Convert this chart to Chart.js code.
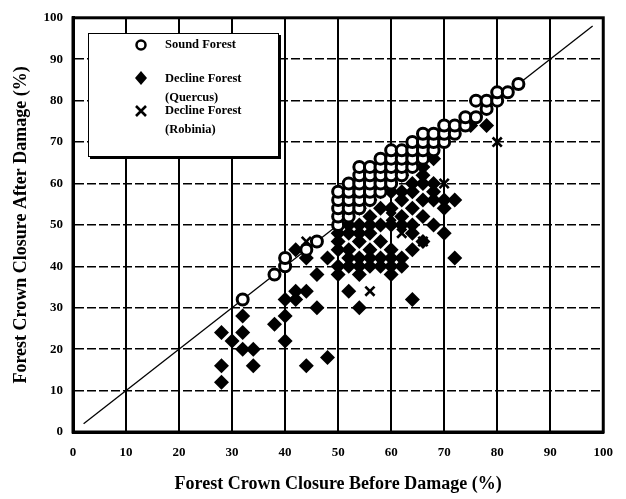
<!DOCTYPE html>
<html>
<head>
<meta charset="utf-8">
<script src="https://cdn.jsdelivr.net/npm/chart.js@4"></script>
<style>
  html, body { margin: 0; padding: 0; background: #fff; }
  #wrap { position: relative; width: 626px; height: 499px; }
  #legend {
    position: absolute; left: 88px; top: 33px; width: 189px; height: 122px;
    border: 1.5px solid #000; box-shadow: 2px 2px 0 #000; background: #fff;
    font: bold 12.5px "Liberation Serif", "DejaVu Serif", serif; color: #000;
  }
  #legend .lbl { position: absolute; left: 76px; line-height: 14px; white-space: nowrap; }
  #legend svg { position: absolute; left: 44px; }
</style>
</head>
<body>
<div id="wrap">
  <canvas id="chart" width="626" height="499"></canvas>
  <div id="legend">
    <svg style="top:3px" width="16" height="16"><circle cx="8" cy="8" r="4.5" fill="#fff" stroke="#000" stroke-width="2.5"/></svg>
    <div class="lbl" style="top:3px">Sound Forest</div>
    <svg style="top:36px" width="16" height="16"><polygon points="8,1 14,8 8,15 2,8" fill="#000"/></svg>
    <div class="lbl" style="top:37px">Decline Forest</div>
    <div class="lbl" style="top:56px">(Quercus)</div>
    <svg style="top:69px" width="16" height="16"><path d="M3,3 L13,13 M13,3 L3,13" stroke="#000" stroke-width="2.6"/></svg>
    <div class="lbl" style="top:69px">Decline Forest</div>
    <div class="lbl" style="top:88px">(Robinia)</div>
  </div>
</div>
<script>
// before / after crown closure (%)

const soundX = [32, 38, 40, 40, 44, 46,
  50, 50, 50, 50, 50,
  52, 52, 52, 52, 52,
  54, 54, 54, 54, 54, 54,
  56, 56, 56, 56, 56,
  58, 58, 58, 58, 58,
  60, 60, 60, 60, 60,
  62, 62, 62, 62,
  64, 64, 64, 64,
  66, 66, 66, 66,
  68, 68, 68,
  70, 70, 70,
  72, 72, 74, 74, 76, 76, 78, 78, 80, 80, 82, 84]
const soundY = [32, 38, 40, 42, 44, 46,
  50, 52, 54, 56, 58,
  52, 54, 56, 58, 60,
  54, 56, 58, 60, 62, 64,
  56, 58, 60, 62, 64,
  58, 60, 62, 64, 66,
  60, 62, 64, 66, 68,
  62, 64, 66, 68,
  64, 66, 68, 70,
  66, 68, 70, 72,
  68, 70, 72,
  70, 72, 74,
  72, 74, 74, 76, 76, 80, 78, 80, 80, 82, 82, 84]

const quercusX = [28, 28, 28, 30, 32, 32, 32, 34, 34,
  38, 40, 40, 40, 42, 42, 42, 44, 44, 44, 46, 46, 48, 48,
  50, 50, 50, 50, 50, 52, 52, 52, 52, 52, 52, 54, 54, 54, 54, 54, 54, 54, 54,
  56, 56, 56, 56, 56, 56, 56, 58, 58, 58, 58, 58, 58, 58,
  60, 60, 60, 60, 60, 60, 60, 60, 62, 62, 62, 62, 62, 62, 62,
  64, 64, 64, 64, 64, 64, 64, 66, 66, 66, 66, 66, 66,
  68, 68, 68, 68, 68, 70, 70, 70, 72, 72, 75, 78]
const quercusY = [24, 16, 12, 22, 28, 24, 20, 20, 16,
  26, 28, 32, 22, 32, 34, 44, 34, 16, 42, 30, 38, 18, 42,
  38, 40, 44, 46, 48, 34, 40, 42, 44, 48, 50, 30, 38, 40, 42, 46, 48, 50, 54,
  40, 42, 44, 48, 50, 52, 56, 40, 42, 46, 50, 54, 58, 62,
  38, 40, 42, 44, 50, 54, 58, 64, 40, 42, 50, 52, 56, 58, 62,
  32, 44, 48, 50, 54, 58, 60, 46, 52, 56, 60, 62, 64,
  50, 56, 58, 60, 66, 48, 54, 56, 42, 56, 74, 74]

const robiniaX = [44, 56, 60, 62, 66, 70, 70, 80]
const robiniaY = [46, 34, 52, 48, 46, 60, 70, 70]

const refLineX = [2, 98]
const refLineY = [2, 98]

const ticks = [0, 10, 20, 30, 40, 50, 60, 70, 80, 90, 100]

const pts = (xs, ys) => xs.map((x, i) => ({ x: x, y: ys[i] }))

const font = { family: '"Liberation Serif", "DejaVu Serif", serif', weight: 'bold' }

// thick frame round the plot area
const framePlugin = {
  id: 'frame',
  afterDatasetsDraw(chart) {
    const a = chart.chartArea
    const c = chart.ctx
    c.save()
    c.strokeStyle = '#000'
    c.lineWidth = 3
    c.strokeRect(a.left, a.top, a.right - a.left, a.bottom - a.top)
    c.restore()
  }
}

new Chart(document.getElementById('chart'), {
  type: 'scatter',
  data: {
    datasets: [
      {
        label: 'Sound Forest',
        data: pts(soundX, soundY),
        pointStyle: 'circle',
        pointRadius: 5.5,
        pointBackgroundColor: '#fff',
        pointBorderColor: '#000',
        pointBorderWidth: 3
      },
      {
        label: 'Decline Forest (Robinia)',
        data: pts(robiniaX, robiniaY),
        pointStyle: 'crossRot',
        pointRadius: 6.5,
        pointBorderColor: '#000',
        pointBorderWidth: 2.6
      },
      {
        label: 'Decline Forest (Quercus)',
        data: pts(quercusX, quercusY),
        pointStyle: 'rectRot',
        pointRadius: 7.5,
        pointBackgroundColor: '#000',
        pointBorderColor: '#000',
        pointBorderWidth: 0
      },
      {
        label: '1:1',
        data: pts(refLineX, refLineY),
        showLine: true,
        borderColor: '#000',
        borderWidth: 1.3,
        pointRadius: 0
      }
    ]
  },
  options: {
    responsive: false,
    animation: false,
    layout: { padding: { left: 0, right: 11, top: 15, bottom: 0 } },
    plugins: {
      legend: { display: false },
      tooltip: { enabled: false }
    },
    scales: {
      x: {
        type: 'linear', min: 0, max: 100,
        afterBuildTicks: s => { s.ticks = ticks.map(v => ({ value: v })) },
        afterFit: s => { s.height = 67 },
        grid: { color: '#000', lineWidth: 2, drawTicks: false },
        border: { color: '#000', width: 3 },
        ticks: { color: '#000', padding: 13, font: { ...font, size: 13 } },
        title: {
          display: true, text: 'Forest Crown Closure Before Damage (%)',
          color: '#000', font: { ...font, size: 18 }, padding: { top: 0, bottom: 4 }
        }
      },
      y: {
        type: 'linear', min: 0, max: 100,
        afterBuildTicks: s => { s.ticks = ticks.map(v => ({ value: v })) },
        afterFit: s => { s.width = 73 },
        grid: { color: '#000', lineWidth: 1.5, drawTicks: false },
        border: {
          color: '#000', width: 3,
          dash: ctx => (ctx.tick && ctx.tick.value > 0 && ctx.tick.value < 100) ? [9, 3] : []
        },
        ticks: { color: '#000', padding: 10, font: { ...font, size: 13 } },
        title: {
          display: true, text: 'Forest Crown Closure After Damage (%)',
          color: '#000', font: { ...font, size: 18 }, padding: { top: 11, bottom: 0 }
        }
      }
    }
  },
  plugins: [framePlugin]
})
</script>
</body>
</html>
